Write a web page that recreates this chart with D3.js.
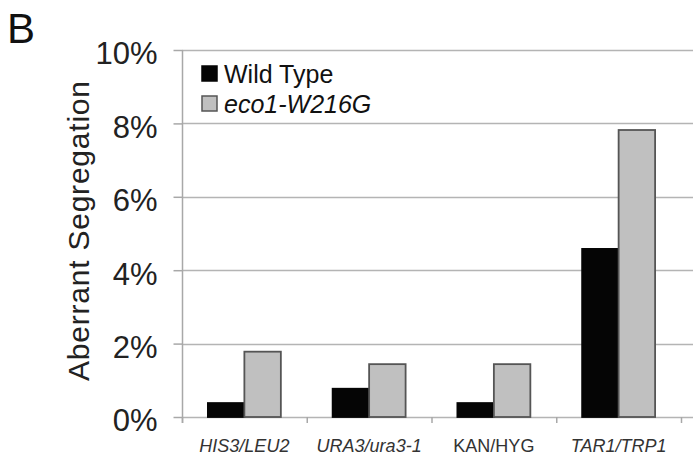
<!DOCTYPE html>
<html>
<head>
<meta charset="utf-8">
<script src="https://cdn.jsdelivr.net/npm/d3@7"></script>
<style>
  html, body { margin: 0; padding: 0; background: #fff; }
  svg { display: block; font-family: "Liberation Sans", Arial, sans-serif; }
</style>
</head>
<body>
<svg id="chart" width="693" height="459"></svg>
<script>
// Marker loci tested for aberrant segregation
const categories = ["HIS3/LEU2", "URA3/ura3-1", "KAN/HYG", "TAR1/TRP1"];
const italicCategory = [true, true, false, true];
const seriesNames = ["Wild Type", "eco1-W216G"];
// Aberrant segregation (%) per locus
const wildType = [0.38, 0.77, 0.38, 4.58];
const eco1 = [1.78, 1.44, 1.44, 7.82];
const yTicks = [0, 2, 4, 6, 8, 10];

(function () {
const svg = d3.select("#chart");
const W = 693;
const plotLeft = 182, plotRight = 681, plotTop = 50, plotBottom = 417;

const x0 = d3.scaleBand().domain(categories).range([plotLeft, plotRight]).padding(0);
const x1 = d3.scaleBand().domain(seriesNames).range([0, x0.bandwidth()])
  .paddingInner(0).paddingOuter(0.71);
const y = d3.scaleLinear().domain([0, 10]).range([plotBottom, plotTop]);
const fills = { "Wild Type": "#050505", "eco1-W216G": "#c0c0c0" };

// Gridlines spanning to the right edge
svg.append("g").selectAll("line").data(yTicks).join("line")
  .attr("x1", plotLeft).attr("x2", W)
  .attr("y1", d => Math.round(y(d)) + 0.5).attr("y2", d => Math.round(y(d)) + 0.5)
  .attr("stroke", "#b4b4b4").attr("stroke-width", 1.5);

// Y axis with outward ticks
const yAxis = svg.append("g").attr("transform", `translate(${plotLeft + 0.5},0)`)
  .call(d3.axisLeft(y).tickValues(yTicks).tickSize(9).tickPadding(16)
    .tickFormat(d => d + "%"));
yAxis.select(".domain").remove();
yAxis.append("line").attr("x1", 0).attr("x2", 0).attr("y1", plotTop).attr("y2", plotBottom + 6)
  .attr("stroke", "#a8a8a8").attr("stroke-width", 1.5);
yAxis.selectAll(".tick line").attr("stroke", "#a8a8a8").attr("stroke-width", 1.5);
yAxis.selectAll(".tick text")
  .attr("font-size", 31).attr("fill", "#222").attr("dy", "0.45em")
  .attr("font-family", "Liberation Sans, Arial, sans-serif");

// X axis: category ticks and labels
const catTicks = categories.map(c => x0(c)).concat([plotRight]);
svg.append("g").selectAll("line").data(catTicks).join("line")
  .attr("x1", d => d + 0.5).attr("x2", d => d + 0.5)
  .attr("y1", plotBottom).attr("y2", plotBottom + 6)
  .attr("stroke", "#a8a8a8").attr("stroke-width", 1.5);
svg.append("g").selectAll("text").data(categories).join("text")
  .attr("x", d => x0(d) + x0.bandwidth() / 2)
  .attr("y", 452)
  .attr("text-anchor", "middle")
  .attr("font-size", 18)
  .attr("font-style", (d, i) => italicCategory[i] ? "italic" : "normal")
  .attr("fill", "#333")
  .text(d => d);

// Grouped bars
const rows = categories.map((c, i) => ({ cat: c, values: [
  { s: seriesNames[0], v: wildType[i] },
  { s: seriesNames[1], v: eco1[i] }
]}));
svg.append("g").selectAll("g").data(rows).join("g")
  .attr("transform", d => `translate(${x0(d.cat)},0)`)
  .selectAll("rect").data(d => d.values).join("rect")
  .attr("x", d => x1(d.s))
  .attr("y", d => y(d.v))
  .attr("width", x1.bandwidth())
  .attr("height", d => plotBottom - y(d.v))
  .attr("fill", d => fills[d.s])
  .attr("stroke", d => d.s === "Wild Type" ? "#050505" : "#555")
  .attr("stroke-width", 1.8);

// Legend
const legend = svg.append("g");
seriesNames.forEach((s, i) => {
  const ly = 66 + i * 30;
  legend.append("rect").attr("x", 202).attr("y", ly).attr("width", 15).attr("height", 15)
    .attr("fill", fills[s]).attr("stroke", i === 0 ? "#050505" : "#555").attr("stroke-width", 1.5);
  legend.append("text").attr("x", 224).attr("y", ly + 17)
    .attr("font-size", 25).attr("fill", "#111")
    .attr("font-style", i === 0 ? "normal" : "italic")
    .text(s);
});

// Y axis title
svg.append("text")
  .attr("transform", `translate(89,231) rotate(-90)`)
  .attr("text-anchor", "middle")
  .attr("font-size", 30).attr("fill", "#222")
  .attr("textLength", 300).attr("lengthAdjust", "spacing")
  .text("Aberrant Segregation");

// Panel letter
svg.append("text").attr("x", 7).attr("y", 43)
  .attr("font-size", 42).attr("fill", "#111").text("B");
})();
</script>
</body>
</html>
